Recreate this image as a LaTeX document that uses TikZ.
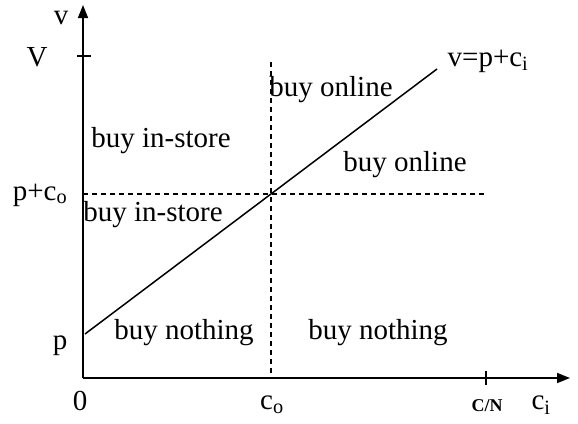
\documentclass[tikz,border=0pt]{standalone}
\usepackage{fontspec}
\setmainfont{Liberation Serif}
\usetikzlibrary{arrows.meta}
\begin{document}
\begin{tikzpicture}[x=1pt,y=-1pt,
  lbl/.style={font=\fontsize{29}{34}\selectfont, inner sep=0pt},
  axis/.style={line width=1.6pt, -{Triangle[length=13pt,width=10pt]}},
  guide/.style={line width=1.2pt, dash pattern=on 5pt off 4pt},
  tick/.style={line width=1.4pt}]
\useasboundingbox (0,0) rectangle (578,423);
% axes
\coordinate (O) at (83,378);
\coordinate (ytop) at (83,5);
\coordinate (xend) at (570,378);
\draw[axis] (O) -- (ytop);
\draw[axis] (O) -- (xend);
% ticks
\coordinate (Vt1) at (77,56); \coordinate (Vt2) at (91,56);
\draw[tick] (Vt1) -- (Vt2);
\coordinate (Ct1) at (486,371); \coordinate (Ct2) at (486,385);
\draw[tick] (Ct1) -- (Ct2);
% dashed guides
\coordinate (pc) at (83,194); \coordinate (pcend) at (485,194);
\draw[guide] (pc) -- (pcend);
\coordinate (cotop) at (271,62); \coordinate (cobot) at (271,378);
\draw[guide] (cotop) -- (cobot);
% line v = p + c_i
\coordinate (L1) at (85,334); \coordinate (L2) at (437,69);
\draw[line width=1.5pt] (L1) -- (L2);
% axis labels
\node[lbl] (lv) at (61,18) {v};
\node[lbl] (lV) at (37,57) {V};
\node[lbl] (lpc) at (40,195) {p+c\textsubscript{o}};
\node[lbl] (lp) at (60,346) {p};
\node[lbl] (l0) at (80,401) {0};
\node[lbl] (lco) at (272,405) {c\textsubscript{o}};
\node[inner sep=0pt, font=\fontsize{18}{20}\selectfont\bfseries] (lCN) at (487,406) {C/N};
\node[lbl] (lci) at (541,405) {c\textsubscript{i}};
\node[lbl] (leq) at (488,61) {v=p+c\textsubscript{i}};
% region labels
\node[lbl] (r1) at (331,90) {buy online};
\node[lbl] (r2) at (161,141) {buy in-store};
\node[lbl] (r3) at (405,165) {buy online};
\node[lbl] (r4) at (153,215) {buy in-store};
\node[lbl] (r5) at (184,333) {buy nothing};
\node[lbl] (r6) at (378,333) {buy nothing};
\end{tikzpicture}
\end{document}
